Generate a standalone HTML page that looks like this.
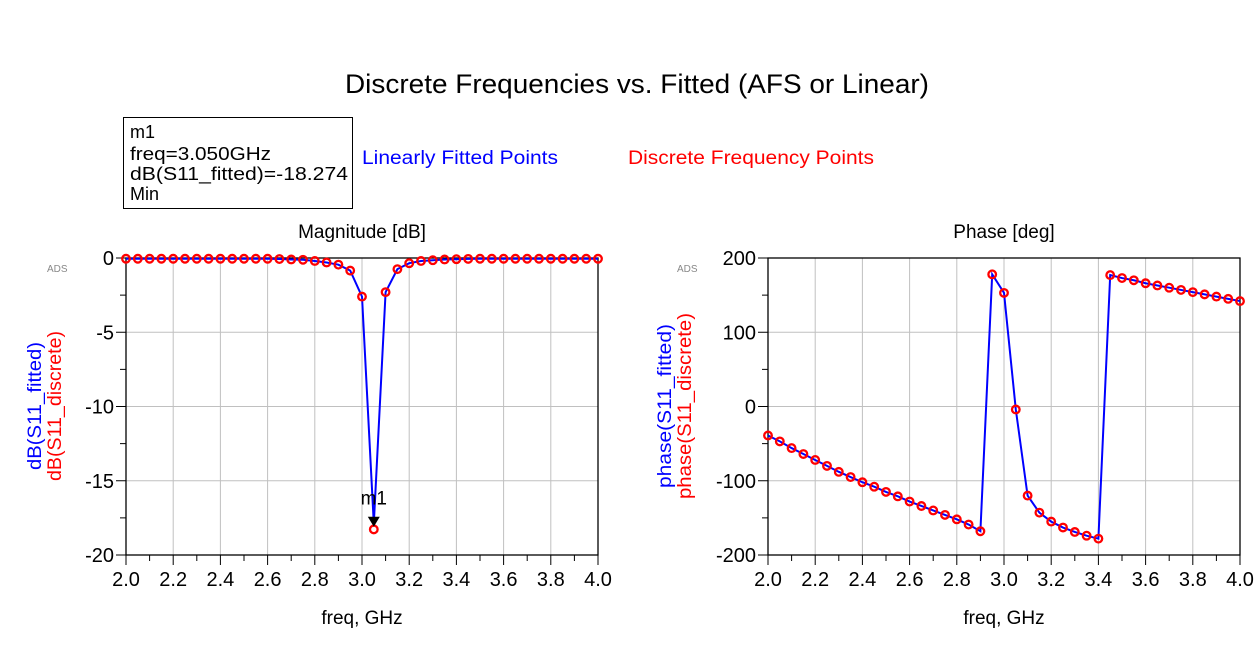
<!DOCTYPE html>
<html><head><style>
body{margin:0;background:#fff;width:1254px;height:662px;overflow:hidden;font-family:"Liberation Sans",Arial,sans-serif}
</style></head><body>
<svg id="s" width="1254" height="662" xmlns="http://www.w3.org/2000/svg" font-family="Liberation Sans, Arial, sans-serif">
<text x="637" y="93" font-size="27" text-anchor="middle" textLength="584" lengthAdjust="spacingAndGlyphs">Discrete Frequencies vs. Fitted (AFS or Linear)</text>
<rect x="123.5" y="117.5" width="229" height="91" fill="none" stroke="#000" stroke-width="1"/>
<text font-size="18" x="130" y="138">m1</text>
<text font-size="18" x="130" y="160" textLength="141" lengthAdjust="spacingAndGlyphs">freq=3.050GHz</text>
<text font-size="18" x="130" y="180" textLength="218" lengthAdjust="spacingAndGlyphs">dB(S11_fitted)=-18.274</text>
<text font-size="18" x="130" y="200">Min</text>
<text font-size="19" x="362" y="164" fill="#0000ff" textLength="196" lengthAdjust="spacingAndGlyphs">Linearly Fitted Points</text>
<text font-size="19" x="628" y="164" fill="#ff0000" textLength="246" lengthAdjust="spacingAndGlyphs">Discrete Frequency Points</text>
<text font-size="19" x="362" y="238" text-anchor="middle">Magnitude [dB]</text>
<text font-size="19" x="1004" y="238" text-anchor="middle">Phase [deg]</text>
<text font-size="10" x="47" y="272" fill="#888">ADS</text>
<text font-size="10" x="677" y="272" fill="#888">ADS</text>
<text font-size="19" x="362" y="624" text-anchor="middle">freq, GHz</text>
<text font-size="19" x="1004" y="624" text-anchor="middle">freq, GHz</text>
<text font-size="19" transform="translate(41,406) rotate(-90)" text-anchor="middle" fill="#0000ff" textLength="128" lengthAdjust="spacingAndGlyphs">dB(S11_fitted)</text>
<text font-size="19" transform="translate(61,406) rotate(-90)" text-anchor="middle" fill="#ff0000" textLength="150" lengthAdjust="spacingAndGlyphs">dB(S11_discrete)</text>
<text font-size="19" transform="translate(671,406) rotate(-90)" text-anchor="middle" fill="#0000ff" textLength="164" lengthAdjust="spacingAndGlyphs">phase(S11_fitted)</text>
<text font-size="19" transform="translate(691,406) rotate(-90)" text-anchor="middle" fill="#ff0000" textLength="186" lengthAdjust="spacingAndGlyphs">phase(S11_discrete)</text>
<g id="g"></g>
</svg>
<script>
var NS="http://www.w3.org/2000/svg",g=document.getElementById('g');
function el(t,a,txt){var e=document.createElementNS(NS,t);for(var k in a)e.setAttribute(k,a[k]);if(txt!=null)e.textContent=txt;g.appendChild(e);return e;}
function plot(x0,x1,y0,y1,ymax,ymin,ystep,ylabels,data,blue){
 var X=function(f){return x0+(f-2)/2*(x1-x0)},Y=function(v){return y0+(ymax-v)/(ymax-ymin)*(y1-y0)};
 for(var f=2.2;f<3.95;f+=0.2)el('line',{x1:X(f),x2:X(f),y1:y0,y2:y1,stroke:'#c0c0c0','stroke-width':1});
 for(var v=ymax-ystep;v>ymin;v-=ystep)el('line',{x1:x0,x2:x1,y1:Y(v),y2:Y(v),stroke:'#c0c0c0','stroke-width':1});
 el('rect',{x:x0,y:y0,width:x1-x0,height:y1-y0,fill:'none',stroke:'#000','stroke-width':1.3});
 for(var i=0;i<=20;i++){var xx=X(2+i*0.1);el('line',{x1:xx,x2:xx,y1:y1,y2:y1+(i%2?6:10),stroke:'#000'});}
 for(var v=ymax;v>=ymin-0.001;v-=ystep/2){el('line',{x1:x0-((Math.round((ymax-v)/ystep*2))%2?6:10),x2:x0,y1:Y(v),y2:Y(v),stroke:'#000'});}
 for(var i=0;i<=10;i++)el('text',{x:X(2+i*0.2),y:y1+31,'font-size':20,'text-anchor':'middle'},(2+i*0.2).toFixed(1));
 ylabels.forEach(function(v){el('text',{x:x0-12,y:Y(v)+7,'font-size':20,'text-anchor':'end'},String(v));});
 var p=blue.map(function(d,i){return X(2+i*0.05)+','+Y(d)}).join(' ');
 el('polyline',{points:p,fill:'none',stroke:'#0000ff','stroke-width':2});
 data.forEach(function(d,i){el('circle',{cx:X(2+i*0.05),cy:Y(d),r:3.8,fill:'none',stroke:'#ff0000','stroke-width':2.3});});
 return [X,Y];
}
var db=[-0.05,-0.05,-0.05,-0.05,-0.05,-0.05,-0.05,-0.05,-0.05,-0.05,-0.05,-0.05,-0.05,-0.07,-0.1,-0.12,-0.2,-0.3,-0.45,-0.85,-2.6,-18.274,-2.3,-0.75,-0.35,-0.2,-0.15,-0.1,-0.08,-0.06,-0.05,-0.05,-0.05,-0.05,-0.05,-0.05,-0.05,-0.05,-0.05,-0.05,-0.05];
var dbb=db.slice();dbb[21]=-17.9;
var r=plot(126,598,258,555,0,-20,5,[0,-5,-10,-15,-20],db,dbb);
el('text',{x:r[0](3.05),y:r[1](-16.6),'font-size':19,'text-anchor':'middle'},'m1');
var ax=r[0](3.05),ay=r[1](-18.1);
el('polygon',{points:(ax-6)+','+(ay-10)+' '+(ax+6)+','+(ay-10)+' '+ax+','+ay,fill:'#000'});
var ph=[-39,-47,-56,-64,-72,-80,-88,-95,-102,-108,-115,-121,-128,-134,-140,-146,-152,-159,-168,178,153,-4,-120,-143,-155,-163,-169,-174,-178,177,173,170,166,163,160,157,154,151,148,145,142];
plot(768,1240,258,555,200,-200,100,[200,100,0,-100,-200],ph,ph);
</script>
</body></html>
